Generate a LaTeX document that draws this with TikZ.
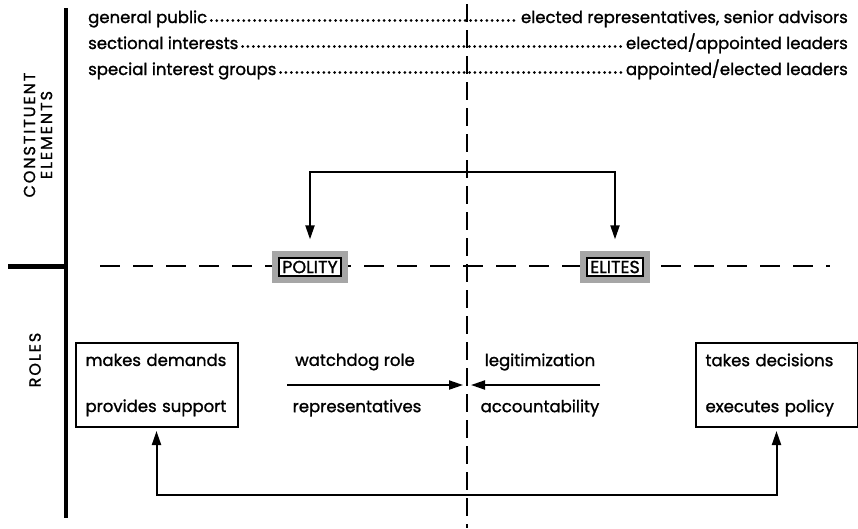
\documentclass[tikz,border=0pt]{standalone}
\usepackage{fontspec}
\setmainfont{Poppins}[FakeBold=1.3]
\usetikzlibrary{arrows.meta,positioning,backgrounds}

\tikzset{
  txt/.style={font=\fontsize{16.5}{19}\selectfont, inner sep=0pt},
  leader/.style={line width=3pt, line cap=round, dash pattern=on 0pt off 5.4pt},
  axisline/.style={line width=4pt},
  midline/.style={line width=2.6pt, dash pattern=on 18pt off 8pt},
  splitline/.style={line width=2pt, dash pattern=on 20pt off 13pt},
  arr/.style={line width=2pt, -{Triangle[length=14pt,width=9pt]}},
  rolebox/.style={draw, line width=2pt, minimum height=84pt, text width=142pt,
    inner xsep=10pt, align=left, font=\fontsize{16.5}{19}\selectfont},
  tagbox/.style={draw, line width=1.8pt, fill=white, inner xsep=3pt, inner ysep=2.5pt,
    preaction={draw=gray!70, line width=15pt}, font=\fontsize{17.5}{20}\selectfont},
  sidelabel/.style={rotate=90, align=center,
    font=\fontsize{16}{17}\selectfont\addfontfeatures{LetterSpace=12}}
}

\begin{document}
\begin{tikzpicture}[x=1pt,y=-1pt]
\useasboundingbox (0,0) rectangle (858,528);

% axes
\draw[axisline] (66,8) -- (66,518);
\draw[line width=5pt] (8,266) -- (66,266);
\node[sidelabel] (elem) at (38,135) {CONSTITUENT\\ELEMENTS};
\node[sidelabel] (roles) at (35,360) {ROLES};

% middle divide
\coordinate (midtop) at (467,4);
\coordinate (midbot) at (467,528);
\draw[midline] (midtop) -- (midbot);

% constituent elements
\node[txt, anchor=base west] (gp) at (88,23) {general public};
\node[txt, anchor=base west] (si) at (88,49) {sectional interests};
\node[txt, anchor=base west] (sg) at (88,75) {special interest groups};
\node[txt, anchor=base east] (era) at (848,23) {elected representatives, senior advisors};
\node[txt, anchor=base east] (eal) at (848,49) {elected/appointed leaders};
\node[txt, anchor=base east] (ael) at (848,75) {appointed/elected leaders};
\draw[leader] ([xshift=4pt,yshift=2.5pt]gp.base east) -- ([xshift=-4pt,yshift=2.5pt]era.base west);
\draw[leader] ([xshift=4pt,yshift=2.5pt]si.base east) -- ([xshift=-4pt,yshift=2.5pt]eal.base west);
\draw[leader] ([xshift=4pt,yshift=2.5pt]sg.base east) -- ([xshift=-4pt,yshift=2.5pt]ael.base west);

% polity / elites
\coordinate (splitl) at (100,266);
\coordinate (splitr) at (830,266);
\node[tagbox] (polity) at (310,267) {POLITY};
\node[tagbox] (elites) at (615,267) {ELITES};
\begin{scope}[on background layer]
\draw[splitline] (splitl) -- (splitr);
\end{scope}
\coordinate (topmid) at (467,172);
\draw[arr, shorten >=18pt] (topmid) -| (polity);
\draw[arr, shorten >=18pt] (topmid) -| (elites);

% roles
\node[rolebox] (demands) at (156.5,385) {makes demands\\[27pt]provides support};
\node[rolebox] (decides) at (776.5,385) {takes decisions\\[27pt]executes policy};
\coordinate (meet) at (467,385);
\coordinate (wdl) at (287,385);
\coordinate (lgr) at (600,385);
\draw[arr, shorten >=4pt] (wdl) -- (meet);
\draw[arr, shorten >=4pt] (lgr) -- (meet);
\node[txt] (watch) at (355,362) {watchdog role};
\node[txt] (repr) at (357,408) {representatives};
\node[txt] (legit) at (540,362) {legitimization};
\node[txt] (acct) at (540,408) {accountability};
\coordinate (botmid) at (467,495);
\draw[arr, shorten >=3pt] (botmid) -| (demands);
\draw[arr, shorten >=3pt] (botmid) -| (decides);
\end{tikzpicture}
\end{document}
